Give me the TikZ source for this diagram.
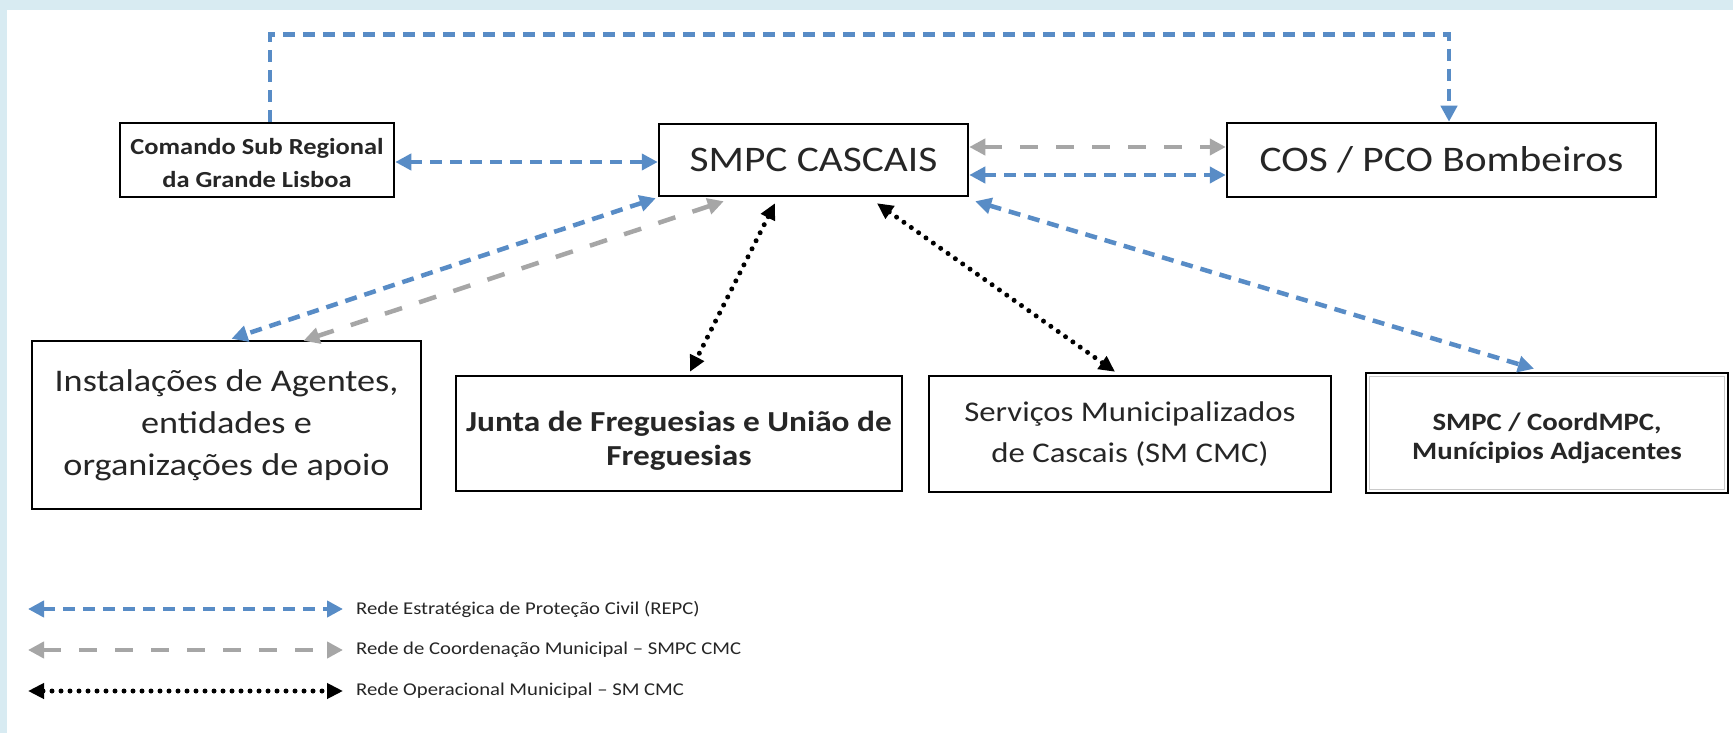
\documentclass[tikz,border=0pt]{standalone}
\usepackage{fontspec}
\setmainfont{Carlito}[FakeStretch=1.15]
\usetikzlibrary{arrows.meta,calc}
\definecolor{framebg}{RGB}{216,235,242}
\definecolor{repcblue}{RGB}{88,140,198}
\definecolor{coordgray}{RGB}{166,166,166}
\definecolor{txt}{RGB}{38,38,38}
\tikzset{
  box/.style={draw=black, line width=2.5pt, fill=white, rectangle, align=center, text=txt, inner sep=0pt},
  tipb/.tip={Triangle[length=16pt,width=16pt]},
  repcline/.style={draw=repcblue, line width=4.5pt, dash pattern=on 12pt off 8pt, tipb-tipb},
  repcone/.style={draw=repcblue, line width=4.5pt, dash pattern=on 12pt off 8pt, -tipb},
  coordline/.style={draw=coordgray, line width=4.5pt, dash pattern=on 18pt off 18pt, tipb-tipb},
  operline/.style={draw=black, line width=5pt, line cap=round, dash pattern=on 0pt off 9pt, {Triangle[length=16pt,width=15pt]}-{Triangle[length=16pt,width=15pt]}},
  legtext/.style={anchor=west, text=txt, inner sep=0pt, font=\fontsize{18}{22}\selectfont}
}
\begin{document}
\begin{tikzpicture}[x=1pt,y=-1pt]
\useasboundingbox (0,0) rectangle (1733,733);
\fill[framebg] (0,0) rectangle (1733,733);
\fill[white] (7,10) rectangle (1733,733);

% boxes
\node[box, minimum width=274pt, minimum height=74pt, font=\bfseries\fontsize{23}{33}\selectfont] (cmd) at (257,160) {\rule{0pt}{23pt}Comando Sub Regional\\da Grande Lisboa};
\node[box, minimum width=309pt, minimum height=72pt, font=\fontsize{36}{43}\selectfont] (smpc) at (813.5,160) {SMPC CASCAIS};
\node[box, minimum width=429pt, minimum height=74pt, font=\fontsize{36}{43}\selectfont] (cos) at (1441.5,160) {COS / PCO Bombeiros};
\node[box, minimum width=389pt, minimum height=168pt, font=\fontsize{31.5}{42}\selectfont] (inst) at (226.5,425) {Instalações de Agentes,\\entidades e\\organizações de apoio};
\node[box, minimum width=446pt, minimum height=115pt, font=\bfseries\fontsize{29}{34}\selectfont] (junta) at (679,433.5) {\rule{0pt}{34pt}Junta de Freguesias e União de\\Freguesias};
\node[box, minimum width=402pt, minimum height=116pt, font=\fontsize{28.5}{41}\selectfont] (serv) at (1130,434) {Serviços Municipalizados\\de Cascais (SM CMC)};
\node[box, minimum width=362pt, minimum height=120pt, font=\bfseries\fontsize{25}{29}\selectfont] (adj) at (1547,433) {\rule{0pt}{29pt}SMPC / CoordMPC,\\Munícipios Adjacentes};
\draw[coordgray!60, line width=1pt] ($(adj.north west)+(5,5)$) rectangle ($(adj.south east)+(-5,-5)$);

% connectors
\draw[repcone] ($(cmd.north)+(13,0)$) -- ++(0,-87) -| ($(cos.north)+(7.5,0)$);
\draw[repcline] ($(cmd.east)+(0,2)$) -- ($(smpc.west)+(0,2)$);
\draw[coordline] ($(smpc.east)+(0,-13)$) -- ($(cos.west)+(0,-13)$);
\draw[repcline] ($(smpc.east)+(0,15)$) -- ($(cos.west)+(0,15)$);
\draw[repcline] ($(smpc.south west)+(-2,1)$) -- ($(inst.north)+(5,-1)$);
\draw[coordline] ($(smpc.south west)+(66,4)$) -- ($(inst.north)+(77,1)$);
\draw[operline] ($(smpc.south)+(-38.5,6)$) -- ($(junta.north)+(11,-3)$);
\draw[operline] ($(smpc.south)+(63.5,6)$) -- ($(serv.north)+(-15,-3)$);
\draw[repcline] ($(smpc.south east)+(6,4)$) -- ($(adj.north)+(-13,-3)$);

% legend
\coordinate (l1a) at (28,609); \coordinate (l1b) at (343,609);
\coordinate (l2a) at (28,650); \coordinate (l2b) at (343,650);
\coordinate (l3a) at (28,691); \coordinate (l3b) at (343,691);
\draw[repcline] (l1a) -- (l1b);
\draw[coordline] (l2a) -- (l2b);
\draw[operline] (l3a) -- (l3b);
\node[legtext] (t1) at (356,609) {Rede Estratégica de Proteção Civil (REPC)};
\node[legtext] (t2) at (356,650) {Rede de Coordenação Municipal – SMPC CMC};
\node[legtext] (t3) at (356,691) {Rede Operacional Municipal – SM CMC};
\end{tikzpicture}
\end{document}
